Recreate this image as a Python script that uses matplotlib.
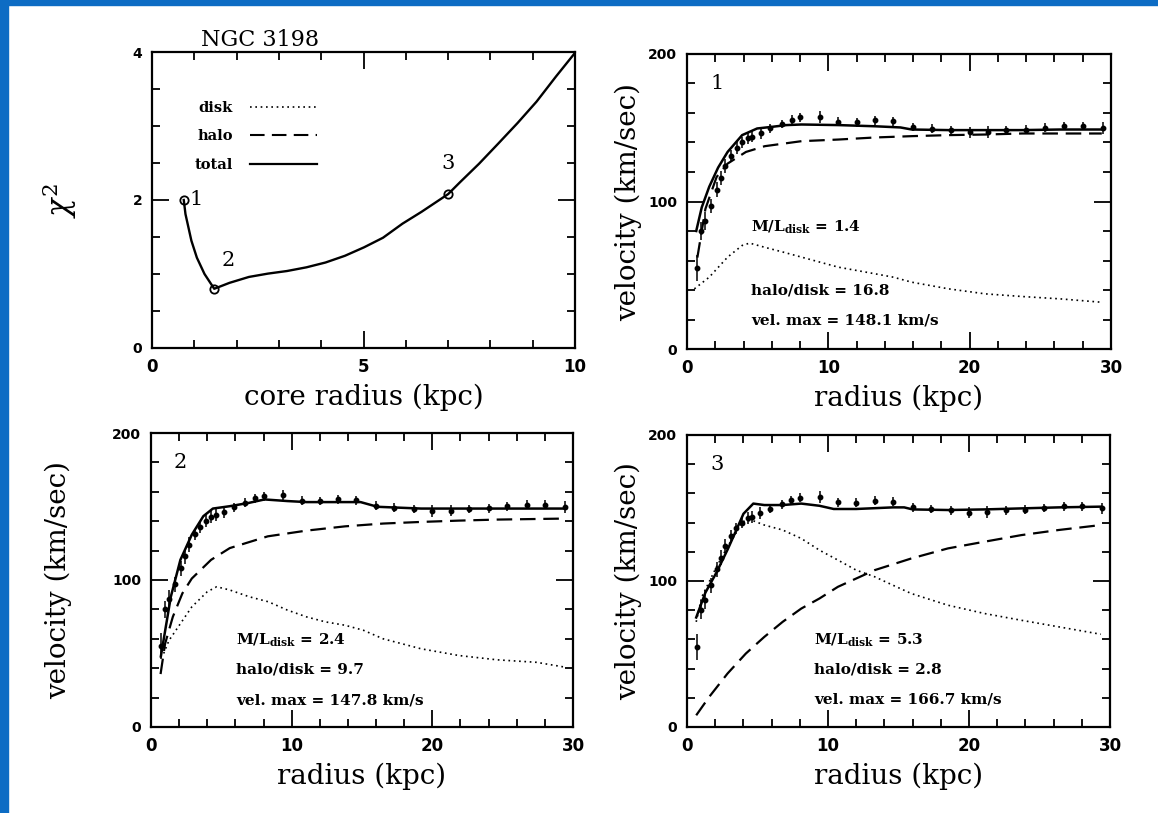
import matplotlib
matplotlib.use("Agg")
import matplotlib.pyplot as plt
from matplotlib.patches import Rectangle
from matplotlib.lines import Line2D
from matplotlib.ticker import MultipleLocator

plt.rcParams['mathtext.fontset'] = 'dejavuserif'

# chi^2 against halo core radius
core_r = [0.75, 0.79, 0.93, 1.06, 1.24, 1.47, 1.83, 2.29, 2.74, 3.19, 3.65, 4.10,
          4.56, 5.01, 5.46, 5.92, 6.37, 7.0, 7.28, 7.73, 8.18, 8.64, 9.09, 9.55, 10.0]
chi2 = [2.0, 1.81, 1.45, 1.22, 1.0, 0.80, 0.88, 0.96, 1.005, 1.04, 1.09, 1.155,
        1.246, 1.36, 1.49, 1.68, 1.84, 2.08, 2.24, 2.49, 2.76, 3.04, 3.33, 3.67, 3.99]
pick_r = [0.75, 1.47, 7.0]
pick_chi2 = [2.0, 0.8, 2.08]
pick_labels = ['1', '2', '3']

# observed rotation curve of NGC 3198
obs_r = [0.7, 1.0, 1.3, 1.7, 2.1, 2.4, 2.7, 3.1, 3.5, 3.9, 4.3, 4.6, 5.2, 5.9, 6.7,
         7.4, 8.0, 9.4, 10.7, 12.0, 13.3, 14.6, 16.0, 17.3, 18.7, 20.0, 21.3, 22.6,
         24.0, 25.3, 26.7, 28.0, 29.4]
obs_v = [55, 80, 87, 97, 108, 116, 124, 131, 136, 140, 143, 144, 146.5, 149.5, 152.5,
         155.5, 157, 157.5, 154, 153.7, 155, 154.3, 150.5, 149.3, 148.3, 146.8, 147.2,
         148.3, 148.8, 150, 151.2, 151.2, 149.7]
obs_err = [9, 6, 6, 5, 5, 5, 5, 4, 4, 4, 4, 4, 4, 3, 3, 3, 3, 4, 3, 3, 3, 3, 3, 3, 3,
           4, 4, 3, 3, 3, 3, 3, 4]

# fit 1
f1_total_r = [0.65, 1.04, 1.57, 2.2, 2.87, 3.9, 4.96, 6.0, 7.04, 8.1, 10.7, 13.3, 15.1,
              15.9, 18.5, 21.1, 23.7, 26.4, 29.35]
f1_total_v = [80, 96, 110, 123, 133.6, 145, 149.5, 150.6, 151.8, 152.2, 151.8, 151, 150.2,
              148.8, 148.4, 148.4, 148.4, 148.8, 148.8]
f1_halo_r = [0.73, 1.3, 2.09, 2.87, 4.17, 5.5, 8.1, 10.7, 13.3, 15.9, 18.5, 21.1, 23.7, 26.4, 29.35]
f1_halo_v = [62, 95, 116.6, 125.7, 133.6, 137.5, 140.9, 142, 143.4, 144.3, 145, 145.4, 146.1, 146.1, 146.1]
f1_disk_r = [0.52, 1.57, 2.87, 3.9, 4.43, 5.48, 6.8, 8.1, 10.7, 13.3, 14.6, 15.9, 18.5, 21.1,
             23.7, 26.4, 29.35]
f1_disk_v = [40.8, 48.7, 62.3, 70.2, 71.8, 69, 65.7, 62.3, 55.5, 51, 48.7, 45.3, 40.8, 37.4,
             35.6, 34, 31.7]

# fit 2
f2_total_r = [0.7, 1.41, 2.09, 2.9, 3.72, 4.4, 5.6, 6.98, 8.07, 9.7, 11.06, 13.8, 14.9, 16.1,
              19.2, 21.9, 24.6, 27.4, 29.5]
f2_total_v = [48, 88.6, 113.7, 130.8, 143.4, 148.6, 150.2, 152.5, 154.8, 153.7, 153, 153, 153,
              149.8, 148.6, 148.6, 148.6, 148.6, 148.6]
f2_halo_r = [0.68, 1.0, 1.55, 2.23, 2.9, 4.27, 5.6, 8.3, 11.06, 13.8, 16.5, 19.2, 21.9, 24.6, 29.5]
f2_halo_v = [36, 56.6, 74.9, 90.9, 101, 113.7, 121.7, 129.7, 133.6, 136.5, 138.4, 139.5, 140.4,
             141.1, 141.8]
f2_disk_r = [0.9, 1.28, 2.09, 2.9, 4.0, 4.67, 5.6, 6.98, 8.34, 9.7, 11.06, 12.4, 13.8, 15.1,
             16.5, 19.2, 21.9, 24.6, 27.4, 29.5]
f2_disk_v = [50, 58.9, 70.3, 81.7, 92, 95.4, 93.2, 88.6, 85.2, 79.5, 74.9, 71.5, 69.2, 65.8,
             60, 53.2, 48.6, 45.7, 44, 40.6]

# fit 3
f3_total_r = [0.65, 1.3, 2.1, 2.9, 3.5, 4.0, 4.7, 5.48, 6.78, 8.1, 9.39, 10.4, 12.0, 14.6,
              15.4, 16.0, 18.5, 21.1, 23.7, 26.35, 29.35]
f3_total_v = [75, 92, 106, 122, 135, 146, 153, 152, 152, 153, 151.5, 149.3, 149.3, 150.4,
              150.4, 149, 148.6, 149, 149.7, 150.4, 150.9]
f3_halo_r = [0.65, 1.57, 2.87, 4.17, 5.48, 6.78, 8.1, 9.39, 10.7, 12.0, 13.3, 15.9, 18.5, 21.1,
             23.7, 26.35, 29.35]
f3_halo_v = [8, 20.6, 36.6, 50.3, 61.7, 72, 81.1, 88, 96, 101.7, 107.4, 115.4, 122.3, 126.9,
             131.4, 134.9, 138.3]
f3_disk_r = [0.65, 1.04, 2.09, 2.87, 3.9, 4.57, 5.48, 6.78, 8.1, 9.39, 10.7, 12.0, 13.3, 14.6,
             15.9, 18.5, 21.1, 23.7, 26.35, 29.35]
f3_disk_v = [72, 89, 109.7, 123.4, 140.6, 141.7, 138.3, 134.9, 129.1, 121.1, 114.3, 107.4,
             102.9, 97.1, 91.4, 83.4, 77.7, 73.1, 68.6, 63.5]

fit_ml = ['1.4', '2.4', '5.3']
fit_hd = ['16.8', '9.7', '2.8']
fit_vmax = ['148.1', '147.8', '166.7']

DOT = (0, (1, 2.2))
DASH = (0, (7, 3.5))
serif = 'DejaVu Serif'
tickfont = dict(family='DejaVu Sans', weight='bold')


def style_axes(ax):
    for s in ax.spines.values():
        s.set_linewidth(1.6)
    ax.tick_params(which='both', direction='in', top=True, right=True, width=1.3)
    ax.tick_params(which='major', length=12, pad=7)
    ax.tick_params(which='minor', length=6)
    for lab in ax.get_xticklabels():
        lab.set_fontproperties(tickfont)
        lab.set_fontsize(12)
    for lab in ax.get_yticklabels():
        lab.set_fontproperties(tickfont)
        lab.set_fontsize(10)


fig = plt.figure(figsize=(11.58, 8.13), dpi=100)
fig.patches.append(Rectangle((0, 1 - 5 / 813), 1, 5 / 813, transform=fig.transFigure,
                             color='#0d6cc4', zorder=0))
fig.patches.append(Rectangle((0, 0), 8 / 1158, 1, transform=fig.transFigure,
                             color='#0d6cc4', zorder=0))

# chi^2 panel
ax = fig.add_axes([0.1313, 0.5720, 0.3653, 0.3640])
ax.plot(core_r, chi2, color='k', lw=1.7)
ax.plot(pick_r, pick_chi2, 'o', ms=6, mfc='none', mec='k', mew=1.3)
offsets = [(9, 0), (10, 20), (0, 22)]
for x, y, t, off in zip(pick_r, pick_chi2, pick_labels, offsets):
    ax.annotate(t, (x, y), xytext=off, textcoords='offset points', ha='center',
                va='center', fontsize=15, family=serif)
ax.set_xlim(0, 10)
ax.set_ylim(0, 4)
ax.set_xticks([0, 5, 10])
ax.set_yticks([0, 2, 4])
ax.xaxis.set_minor_locator(MultipleLocator(1))
ax.yaxis.set_minor_locator(MultipleLocator(0.5))
style_axes(ax)
ax.set_xlabel('core radius (kpc)', fontsize=20, family=serif)
ax.xaxis.set_label_coords(0.5, -0.122)
ax.set_ylabel(r'$\chi^2$', fontsize=22)
ax.yaxis.set_label_coords(-0.172, 0.5)
ax.text(0.116, 1.005, 'NGC 3198', transform=ax.transAxes, fontsize=16, family=serif,
        va='bottom', ha='left')
handles = [Line2D([], [], color='k', ls=DOT, lw=1.2),
           Line2D([], [], color='k', ls=DASH, lw=1.5),
           Line2D([], [], color='k', lw=1.6)]
ax.legend(handles, ['disk', 'halo', 'total'], loc='upper left',
          bbox_to_anchor=(0.10, 0.835), frameon=False, markerfirst=False,
          handlelength=4.6, handletextpad=1.2, labelspacing=1.0, borderpad=0,
          borderaxespad=0, prop=dict(family=serif, weight='bold', size=10.5))

# rotation curve panels
fits = [
    (f1_total_r, f1_total_v, f1_halo_r, f1_halo_v, f1_disk_r, f1_disk_v),
    (f2_total_r, f2_total_v, f2_halo_r, f2_halo_v, f2_disk_r, f2_disk_v),
    (f3_total_r, f3_total_v, f3_halo_r, f3_halo_v, f3_disk_r, f3_disk_v),
]
rects = [[0.5933, 0.5707, 0.3661, 0.3629],
         [0.1304, 0.1058, 0.3644, 0.3616],
         [0.5933, 0.1058, 0.3653, 0.3592]]
text_x = [0.152, 0.201, 0.30]
text_y = [(0.413, 0.198, 0.096), (0.295, 0.194, 0.091), (0.297, 0.197, 0.094)]
ylab_x = [-0.105, -0.188, -0.105]

for i, (fit, rect) in enumerate(zip(fits, rects)):
    tr, tv, hr, hv, dr, dv = fit
    ax = fig.add_axes(rect)
    ax.errorbar(obs_r, obs_v, yerr=obs_err, fmt='o', ms=3.2, color='k', elinewidth=1.1,
                capsize=0)
    ax.plot(tr, tv, color='k', lw=1.8)
    ax.plot(hr, hv, color='k', ls=DASH, lw=1.6)
    ax.plot(dr, dv, color='k', ls=DOT, lw=1.2)
    ax.set_xlim(0, 30)
    ax.set_ylim(0, 200)
    ax.set_xticks([0, 10, 20, 30])
    ax.set_yticks([0, 100, 200])
    ax.xaxis.set_minor_locator(MultipleLocator(2))
    ax.yaxis.set_minor_locator(MultipleLocator(20))
    style_axes(ax)
    ax.set_xlabel('radius (kpc)', fontsize=20, family=serif)
    ax.xaxis.set_label_coords(0.5, -0.122)
    ax.set_ylabel('velocity (km/sec)', fontsize=20, family=serif)
    ax.yaxis.set_label_coords(ylab_x[i], 0.5)
    ax.text(0.07, 0.9, pick_labels[i], transform=ax.transAxes, fontsize=15, family=serif,
            ha='center', va='center')
    ys = text_y[i]
    kw = dict(transform=ax.transAxes, fontsize=11, family=serif, weight='bold',
              ha='left', va='center')
    ax.text(text_x[i], ys[0], r'M/L$_{\mathbf{disk}}$ = ' + fit_ml[i], **kw)
    ax.text(text_x[i], ys[1], 'halo/disk = ' + fit_hd[i], **kw)
    ax.text(text_x[i], ys[2], 'vel. max = ' + fit_vmax[i] + ' km/s', **kw)

fig.savefig('out.png', dpi=100)
